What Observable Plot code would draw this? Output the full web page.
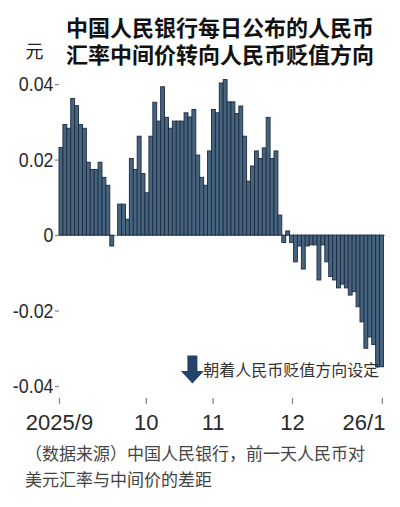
<!DOCTYPE html>
<html>
<head>
<meta charset="utf-8">
<script src="https://cdn.jsdelivr.net/npm/d3@7"></script>
<script src="https://cdn.jsdelivr.net/npm/@observablehq/plot@0.6"></script>
<style>
  html, body { margin: 0; padding: 0; background: #fff; }
  #wrap { position: relative; width: 400px; height: 507px; overflow: hidden; }
  .title { position: absolute; left: 66px; font-family: "Noto Sans CJK SC", sans-serif; font-weight: 700; font-size: 22px; line-height: 22px; color: #111; white-space: nowrap; z-index: 2; }
  #chart { position: absolute; left: 0; top: 0; }
  .caption { position: absolute; left: 25px; font-family: "Noto Sans CJK SC", sans-serif; font-size: 17px; line-height: 17px; color: #444; white-space: nowrap; }
</style>
</head>
<body>
<div id="wrap">
  <div id="chart"></div>
  <div class="title" style="top:15px">中国人民银行每日公布的人民币</div>
  <div class="title" style="top:42px">汇率中间价转向人民币贬值方向</div>
  <div class="caption" style="top:444px">（数据来源）中国人民银行，前一天人民币对</div>
  <div class="caption" style="top:470px">美元汇率与中间价的差距</div>
</div>
<script>
// Daily gap (yuan) between previous-day close and the PBoC central parity, one entry per trading day
const gapValues = [
  0.0232, 0.0293, 0.0283, 0.0362, 0.0343, 0.0293, 0.0283, 0.0193, 0.0174, 0.0174,
  0.0193, 0.0153, 0.0132, -0.0029, null, 0.0082, 0.0082, 0.0042, 0.0203, 0.0174,
  0.0262, 0.0163, 0.0112, 0.0262, 0.0352, 0.0302, 0.0393, 0.0312, 0.0283, 0.0302,
  0.0302, 0.0302, 0.0324, 0.0313, 0.0333, 0.0212, 0.0153, 0.0132, 0.0223, 0.0333,
  0.0324, 0.0403, 0.0412, 0.0353, 0.0353, 0.0322, 0.0342, 0.0262, 0.0143, 0.0183,
  0.0223, 0.0203, 0.0231, 0.0312, 0.0203, 0.0223, 0.0053, -0.0020, 0.0011, -0.0020,
  -0.0071, -0.0029, -0.0090, -0.0029, -0.0026, -0.0026, -0.0119, -0.0026, -0.0071, -0.0110,
  -0.0119, -0.0140, -0.0130, -0.0140, -0.0159, -0.0150, -0.0190, -0.0230, -0.0300, -0.0270,
  -0.0290, -0.0349, -0.0349
];
const monthTickPositions = [0, 22.2, 39.3, 59.6, 82.6];
const monthTickLabels = ["2025/9", "10", "11", "12", "26/1"];
const yTicks = [-0.04, -0.02, 0, 0.02, 0.04];
const yUnit = "元";
const noteText = "朝着人民币贬值方向设定";

const rows = gapValues.map((v, i) => ({i, v})).filter(d => d.v !== null);
const n = gapValues.length;

const numFont = '"Liberation Sans", Arial, sans-serif';
const cjkFont = '"Noto Sans CJK SC", sans-serif';

const blockArrow = {
  draw(context, l) {
    const sw = 5, hw = 11.5, hl = 12.5;
    context.moveTo(-sw, 0);
    context.lineTo(-sw, -(l - hl));
    context.lineTo(-hw, -(l - hl));
    context.lineTo(0, -l);
    context.lineTo(hw, -(l - hl));
    context.lineTo(sw, -(l - hl));
    context.lineTo(sw, 0);
    context.closePath();
  }
};

const chart = Plot.plot({
  width: 400,
  height: 437,
  marginTop: 46,
  marginBottom: 34,
  marginLeft: 59,
  marginRight: 15,
  style: {background: "transparent", color: "#222", fontFamily: numFont, overflow: "visible"},
  x: {domain: [0, n + 0.4], axis: null},
  y: {domain: [-0.0445, 0.0501], axis: null},
  marks: [
    Plot.ruleY([0], {stroke: "#9a9a9a", strokeWidth: 1}),
    Plot.rectY(rows, {x1: "i", x2: d => d.i + 1, y: "v", fill: "#47647f", stroke: "#1c2b40", strokeWidth: 0.9}),
    Plot.axisY({
      ticks: yTicks,
      tickFormat: d => d === 0 ? "0" : d.toFixed(2).replace("\u2212", "-"),
      tickSize: 4, tickPadding: 2, fontSize: 21, line: true, label: null,
      stroke: "#8a8a8a", strokeWidth: 1.3, fill: "#2a2a2a", fontFamily: numFont
    }),
    Plot.axisX({ticks: [], line: true, label: null, stroke: "#8a8a8a", strokeWidth: 1.3, tickSize: 0}),
    Plot.vector(monthTickPositions, {x: d => d, frameAnchor: "bottom", length: 5, anchor: "start", rotate: 0, stroke: "#8a8a8a", strokeWidth: 1.3, shape: "spike", r: 0}),
    Plot.text(monthTickPositions.slice(0, 4), {x: d => d, text: (d, i) => monthTickLabels[i], frameAnchor: "bottom", dy: 19, fontSize: 22, textAnchor: "middle", lineAnchor: "middle", fill: "#2a2a2a", fontFamily: numFont, ariaLabel: "month label"}),
    Plot.text(monthTickPositions.slice(4), {x: d => d, text: (d, i) => monthTickLabels[4 + i], frameAnchor: "bottom", dy: 19, dx: 3, fontSize: 22, textAnchor: "end", lineAnchor: "middle", fill: "#2a2a2a", fontFamily: numFont, ariaLabel: "month label"}),
    Plot.text([yUnit], {text: d => d, frameAnchor: "top-left", dx: -25, dy: 6, fontSize: 18, textAnchor: "middle", lineAnchor: "middle", fill: "#222", fontFamily: cjkFont}),
    Plot.vector([noteText], {x: () => 34, y: () => -0.0318, length: 28, rotate: 180, anchor: "start", shape: blockArrow, fill: "#23436b", stroke: "none"}),
    Plot.text([noteText], {x: () => 36.8, y: () => -0.0358, text: d => d, textAnchor: "start", lineAnchor: "middle", fontSize: 16, fill: "#333", fontFamily: cjkFont})
  ]
});
// narrow the numeric labels horizontally, as the reference uses a condensed face
chart.querySelectorAll('g[aria-label="y-axis tick label"] text, g[aria-label="month label"] text').forEach(t => {
  const tr = t.getAttribute("transform") || "";
  t.setAttribute("transform", tr + " scale(0.85,1)");
});
document.getElementById("chart").appendChild(chart);
</script>
</body>
</html>
